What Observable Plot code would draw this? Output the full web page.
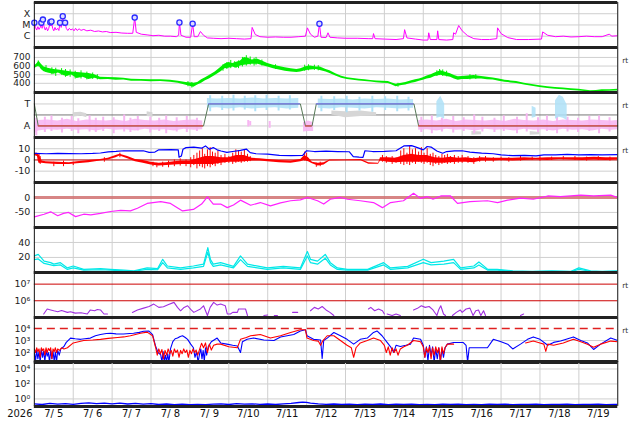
<!DOCTYPE html>
<html><head><meta charset="utf-8">
<script src="https://cdn.jsdelivr.net/npm/d3@7"></script>
<script src="https://cdn.jsdelivr.net/npm/@observablehq/plot@0.6"></script>
<style>
html,body{margin:0;padding:0;background:#fff;overflow:hidden;}
#wrap{position:relative;width:634px;height:424px;font-family:"DejaVu Sans",sans-serif;}
#wrap svg{position:absolute;left:0;overflow:visible;}
</style></head>
<body><div id="wrap"></div>
<script>
// ---------- axis / tick data ----------
const gridDays = [1,2,3,4,5,6,7,8,9,10,11,12,13,14];
const labelDays = [0.5,1.5,2.5,3.5,4.5,5.5,6.5,7.5,8.5,9.5,10.5,11.5,12.5,13.5,14.5];
const dayLabels = ["7/ 5","7/ 6","7/ 7","7/ 8","7/ 9","7/10","7/11","7/12","7/13","7/14","7/15","7/16","7/17","7/18","7/19"];
const yearLabel = ["2026"];

// ---------- panel 1: X-ray flux ----------
const xray = [[0.00,1.6e-5],[0.03,6e-6],[0.06,3.5e-6],[0.09,7e-6],[0.12,4e-6],[0.15,6e-6],[0.18,1.6e-5],[0.20,5e-6],[0.22,3.0e-5],[0.25,7e-6],[0.28,3.5e-6],[0.31,6e-6],[0.34,3e-6],[0.37,5e-6],[0.41,1.7e-5],[0.43,8e-6],[0.44,2.0e-5],[0.47,5e-6],[0.50,3e-6],[0.53,6e-6],[0.56,3.5e-6],[0.60,5e-6],[0.63,3.2e-6],[0.66,1.6e-5],[0.69,6e-6],[0.73,5.9e-5],[0.76,8e-6],[0.79,1.6e-5],[0.82,5e-6],[0.86,3.2e-6],[0.90,5e-6],[0.94,3.5e-6],[0.98,4.5e-6],[1.02,3e-6],[1.06,5e-6],[1.10,3.2e-6],[1.15,4.5e-6],[1.20,3.3e-6],[1.27,4e-6],[1.35,3.0e-6],[1.45,3.4e-6],[1.55,2.6e-6],[1.65,2.9e-6],[1.75,2.4e-6],[1.85,2.6e-6],[1.95,2.1e-6],[2.10,2.2e-6],[2.25,1.9e-6],[2.40,1.8e-6],[2.53,1.8e-6],[2.58,4.5e-5],[2.62,2.2e-6],[2.75,1.5e-6],[2.90,1.3e-6],[3.05,1.1e-6],[3.20,1.2e-6],[3.35,1.0e-6],[3.50,1.0e-6],[3.65,9e-7],[3.71,1.2e-6],[3.73,1.66e-5],[3.77,1.2e-6],[3.90,8e-7],[4.02,8e-7],[4.07,1.3e-5],[4.11,9e-7],[4.20,9e-7],[4.27,2.6e-6],[4.35,1.2e-6],[4.45,7e-7],[4.60,6.5e-7],[4.80,6e-7],[5.00,6.5e-7],[5.20,6e-7],[5.40,5.5e-7],[5.57,6e-7],[5.60,6e-6],[5.68,1.4e-6],[5.80,9e-7],[6.00,8e-7],[6.20,8.5e-7],[6.40,8e-7],[6.60,8e-7],[6.80,9e-7],[6.97,1.0e-6],[7.02,5.5e-6],[7.10,1.5e-6],[7.20,8e-7],[7.29,1e-6],[7.33,1.26e-5],[7.37,8e-7],[7.50,7.5e-7],[7.55,2e-6],[7.60,8e-7],[7.80,7e-7],[8.00,6.5e-7],[8.30,6.5e-7],[8.60,6e-7],[8.70,6e-7],[8.72,1.7e-6],[8.76,6e-7],[9.00,5.5e-7],[9.30,5e-7],[9.49,6e-7],[9.52,3.8e-6],[9.58,7e-7],[9.80,5.5e-7],[10.00,4.5e-7],[10.12,4.5e-7],[10.14,2e-6],[10.18,5e-7],[10.35,5e-7],[10.37,3e-6],[10.40,5e-7],[10.60,4.5e-7],[10.76,5e-7],[10.78,2e-6],[10.83,1.5e-6],[10.91,8.9e-6],[11.00,3e-6],[11.14,1.1e-6],[11.30,6e-7],[11.50,5e-7],[11.70,5e-7],[11.89,6e-7],[11.91,5.5e-6],[12.00,1.7e-6],[12.17,7.5e-7],[12.40,5e-7],[12.70,5e-7],[13.04,5.5e-7],[13.07,2.4e-6],[13.20,1.2e-6],[13.40,9e-7],[13.60,1e-6],[13.80,8.5e-7],[14.00,9e-7],[14.20,1.0e-6],[14.40,9e-7],[14.60,9e-7],[14.78,1.5e-6],[14.85,1.0e-6],[15.00,1.1e-6]];
const flares = [[0.0,1.6e-5],[0.18,1.6e-5],[0.22,3.0e-5],[0.41,1.7e-5],[0.44,2.0e-5],[0.66,1.6e-5],[0.73,5.9e-5],[0.79,1.6e-5],[2.58,4.5e-5],[3.73,1.66e-5],[4.07,1.3e-5],[7.33,1.26e-5]];
const xrayTicks = [1e-4,1e-5,1e-6];
const xrayLabels = ["X","M","C"];

// ---------- panel 2: solar wind speed (time, low, high) ----------
const wind = [[0.00,570,600],[0.06,585,625],[0.12,600,655],[0.18,560,620],[0.25,535,590],[0.35,520,575],[0.5,505,560],[0.62,520,555],[0.75,490,545],[0.85,480,540],[0.95,500,530],[1.1,455,525],[1.25,470,520],[1.4,445,515],[1.55,460,500],[1.7,440,470],[1.9,445,468],[2.1,435,465],[2.3,438,458],[2.5,423,447],[2.75,425,445],[3.0,418,442],[3.25,420,440],[3.5,413,437],[3.7,400,425],[3.9,378,410],[4.1,355,400],[4.2,380,410],[4.3,400,440],[4.4,430,465],[4.5,450,490],[4.65,490,530],[4.8,535,585],[4.9,570,625],[5.0,575,640],[5.1,590,630],[5.2,575,645],[5.3,600,660],[5.4,610,700],[5.5,615,690],[5.6,620,670],[5.75,620,680],[5.9,600,650],[6.0,590,630],[6.15,570,610],[6.3,555,595],[6.45,540,580],[6.6,530,570],[6.75,525,560],[6.85,530,570],[7.0,550,595],[7.1,555,600],[7.25,560,590],[7.35,550,590],[7.5,530,560],[7.6,515,545],[7.75,485,510],[7.9,458,482],[8.05,445,465],[8.2,435,455],[8.35,428,446],[8.5,420,440],[8.65,415,432],[8.8,408,428],[8.95,402,425],[9.1,398,422],[9.2,380,405],[9.3,360,390],[9.45,375,400],[9.55,380,410],[9.7,400,430],[9.8,410,440],[9.9,425,450],[10.0,435,465],[10.1,450,485],[10.2,460,500],[10.3,480,520],[10.45,495,545],[10.55,485,530],[10.7,470,510],[10.8,450,490],[10.9,435,475],[11.0,445,480],[11.15,445,485],[11.3,450,490],[11.5,450,480],[11.65,440,470],[11.8,438,462],[11.95,425,450],[12.1,413,437],[12.25,405,428],[12.4,398,422],[12.6,380,400],[12.8,365,385],[13.0,352,372],[13.2,340,360],[13.4,332,352],[13.6,325,345],[13.8,318,338],[14.0,312,332],[14.15,305,322],[14.3,297,313],[14.45,300,318],[14.6,305,325],[14.8,308,326],[15.0,310,330]];
const windSpikes = [[0.1,590,660],[0.3,525,605],[0.45,500,580],[0.55,480,575],[0.7,495,570],[0.8,470,560],[0.92,470,555],[1.05,450,540],[1.2,450,545],[1.35,440,530],[1.5,445,520],[1.62,440,500],[3.95,360,420],[4.05,345,410],[4.85,540,615],[4.95,560,640],[5.05,570,665],[5.15,580,650],[5.25,570,660],[5.35,590,700],[5.45,600,720],[5.55,610,705],[5.65,600,690],[5.7,610,700],[5.85,600,670],[6.2,560,615],[6.95,540,610],[7.05,545,615],[7.2,550,610],[7.3,545,605],[9.35,355,400],[10.35,480,545],[10.42,490,560],[10.5,480,555],[10.6,475,540],[11.2,440,500],[11.35,445,500]];
const windTicks = [700,600,500,400];

// ---------- panel 3: IMF sector (T = 1, A = -1) ----------
const sectorPts = [[0,1],[0.1,-1],[4.35,-1],[4.48,1],[6.84,1],[6.97,-1],[7.14,-1],[7.25,1],[9.76,1],[9.88,-1],[15,-1]];
const towardSeg = [[4.48,6.84],[7.25,9.76]];
const awaySeg = [[0.1,4.35],[6.97,7.14],[9.88,15]];
const pinkCore = [[0,-1.7,-0.7],[0.1,-1.45,-0.5],[0.35,-1.35,-0.45],[0.6,-1.4,-0.55],[0.85,-1.3,-0.4],[1.1,-1.4,-0.6],[1.35,-1.35,-0.45],[1.6,-1.45,-0.5],[1.85,-1.3,-0.55],[2.1,-1.4,-0.45],[2.35,-1.35,-0.6],[2.6,-1.45,-0.4],[2.85,-1.3,-0.5],[3.1,-1.4,-0.55],[3.35,-1.35,-0.45],[3.6,-1.45,-0.6],[3.85,-1.3,-0.5],[4.1,-1.4,-0.45],[4.33,-1.35,-0.55],[4.36,NaN,NaN],[6.9,NaN,NaN],[6.92,-1.55,-0.7],[7.05,-1.5,-0.55],[7.18,-1.5,-0.7],[7.2,NaN,NaN],[9.86,NaN,NaN],[9.88,-1.4,-0.5],[10.1,-1.35,-0.45],[10.35,-1.45,-0.55],[10.6,-1.3,-0.4],[10.85,-1.4,-0.6],[11.1,-1.35,-0.45],[11.35,-1.45,-0.5],[11.6,-1.3,-0.55],[11.85,-1.4,-0.45],[12.1,-1.35,-0.6],[12.35,-1.45,-0.4],[12.6,-1.3,-0.5],[12.85,-1.4,-0.55],[13.1,-1.35,-0.45],[13.35,-1.45,-0.6],[13.6,-1.3,-0.45],[13.85,-1.4,-0.5],[14.1,-1.35,-0.55],[14.35,-1.45,-0.45],[14.6,-1.3,-0.5],[14.85,-1.4,-0.55],[15,-1.35,-0.5]];
const pinkSpikes = [[0.05,-1.9,-0.3],[0.27,-1.6,-0.2],[0.44,-1.5,-0.1],[0.71,-1.65,-0.3],[0.96,-1.5,-0.15],[1.13,-1.7,-0.35],[1.42,-1.55,-0.1],[1.58,-1.6,-0.3],[1.77,-1.5,-0.2],[2.04,-1.7,-0.25],[2.31,-1.55,0.0],[2.47,-1.6,-0.3],[2.66,-1.45,-0.15],[2.98,-1.65,-0.2],[3.21,-1.5,-0.3],[3.39,-1.7,-0.1],[3.66,-1.55,-0.25],[3.92,-1.6,-0.15],[4.18,-1.5,-0.3],[5.5,-1.1,-0.5],[5.55,-1.0,-0.6],[6.05,-1.2,-0.6],[9.95,-1.6,-0.2],[10.22,-1.7,-0.1],[10.48,-1.55,-0.3],[10.77,-1.65,-0.15],[11.04,-1.5,-0.25],[11.31,-1.7,0.0],[11.52,-1.55,-0.2],[11.83,-1.6,-0.3],[12.07,-1.5,-0.1],[12.41,-1.7,-0.2],[12.66,-1.55,0.1],[12.95,-1.6,-0.25],[13.18,-1.5,-0.1],[13.44,-1.7,0.0],[13.71,-1.55,-0.2],[13.98,-1.6,-0.3],[14.27,-1.5,-0.15],[14.52,-1.7,-0.1],[14.79,-1.55,-0.25]];
const blueCore = [[4.45,0.6,1.5],[4.7,0.65,1.45],[5.0,0.55,1.5],[5.3,0.65,1.45],[5.6,0.55,1.55],[5.9,0.6,1.45],[6.2,0.65,1.5],[6.5,0.55,1.45],[6.8,0.6,1.5],[6.85,NaN,NaN],[7.25,NaN,NaN],[7.3,0.6,1.45],[7.6,0.55,1.4],[7.9,0.65,1.45],[8.2,0.6,1.35],[8.5,0.55,1.45],[8.8,0.65,1.4],[9.1,0.6,1.45],[9.4,0.55,1.35],[9.75,0.6,1.4],[9.8,NaN,NaN],[10.3,NaN,NaN],[10.35,-0.3,1.2],[10.45,-0.2,1.7],[10.55,-0.4,1.0],[10.6,NaN,NaN],[10.85,NaN,NaN],[10.9,-0.2,1.1],[10.95,NaN,NaN],[12.75,NaN,NaN],[12.8,-0.3,0.8],[12.9,-0.2,0.6],[12.95,NaN,NaN],[13.35,NaN,NaN],[13.4,-0.4,1.3],[13.5,-0.2,1.8],[13.6,-0.3,1.6],[13.7,-0.5,0.9],[13.75,NaN,NaN]];
const blueSpikes = [[4.52,0.3,1.75],[4.83,0.4,1.7],[5.12,0.35,1.8],[5.41,0.45,1.7],[5.68,0.3,1.75],[5.97,0.4,1.8],[6.28,0.35,1.7],[6.57,0.45,1.75],[7.38,0.3,1.7],[7.71,0.4,1.65],[8.03,0.2,1.7],[8.36,0.35,1.6],[8.69,0.25,1.7],[9.02,0.4,1.65],[9.33,0.3,1.7],[9.62,0.35,1.6]];
const phiGray = [[0.95,NaN,NaN],[1.0,-0.2,0.2],[1.2,-0.1,0.25],[1.35,-0.25,0.1],[1.4,NaN,NaN],[2.85,NaN,NaN],[2.9,-0.15,0.3],[3.05,-0.2,0.2],[3.1,NaN,NaN],[7.6,NaN,NaN],[7.65,0.0,0.35],[8.0,-0.25,0.3],[8.4,-0.15,0.35],[8.8,-0.1,0.2],[8.85,NaN,NaN],[11.2,NaN,NaN],[11.25,-1.85,-1.5],[11.5,-1.8,-1.55],[11.55,NaN,NaN],[12.7,NaN,NaN],[12.75,-1.85,-1.5],[13.0,-1.8,-1.6],[13.05,NaN,NaN]];
const sectorTicks = [1,-1];
const sectorLabels = ["T","A"];

// ---------- panel 4: IMF Bt (blue) and Bz (red core band + spikes) ----------
const bt = [[0,5.8],[0.3,5.5],[0.6,5.8],[0.9,5.6],[1.2,5.5],[1.5,5.8],[1.7,6.2],[1.9,7.2],[2.1,7.6],[2.3,8.2],[2.6,8.0],[2.8,8.2],[2.95,6.7],[3.1,7.0],[3.2,9.0],[3.5,9.2],[3.7,9.0],[3.72,2.5],[3.78,3.5],[3.82,9.5],[3.9,11],[4.1,11.5],[4.3,10.5],[4.4,12.5],[4.5,9.5],[4.6,11],[4.7,9],[4.8,8],[4.95,6.7],[5.1,7.5],[5.3,8.5],[5.45,9.7],[5.55,6.5],[5.7,5.5],[6.0,5.2],[6.3,4.0],[6.6,3.8],[6.9,4.0],[7.0,8.2],[7.2,7.5],[7.5,7.8],[7.8,7.5],[8.1,7.3],[8.2,3.0],[8.35,2.5],[8.45,2.3],[8.5,8.2],[8.7,7.5],[9.0,7.6],[9.3,8.2],[9.5,12.5],[9.7,12.7],[9.85,11.0],[10.0,9.0],[10.1,12.0],[10.2,11.5],[10.35,8.0],[10.5,6.0],[10.6,7.5],[10.8,8.0],[11.0,8.2],[11.2,7.0],[11.5,6.0],[11.8,5.5],[12.0,4.5],[12.3,3.8],[12.6,4.0],[12.9,3.6],[13.1,4.5],[13.4,4.5],[13.7,5.0],[14.0,4.5],[14.3,4.8],[14.6,4.5],[15.0,4.8]];
const bz = [[0,4,6],[0.08,3,6],[0.1,-1,5],[0.13,-3,4],[0.2,-3,-1],[0.3,-3.5,-1.5],[0.6,-4,-2],[0.9,-4,-2.5],[1.1,-3.5,-1.5],[1.4,-2.5,-0.5],[1.7,-1,0.5],[1.9,0,1.5],[2.1,2,4],[2.2,3.5,5],[2.4,1,3],[2.6,-1.5,0.5],[2.8,-3,-0.5],[3.0,-4.5,-2],[3.2,-5.5,-3],[3.4,-5,-2.5],[3.6,-4.5,-1.5],[3.8,-4,-1],[4.0,-4,-1],[4.2,-4,1],[4.4,-4,3],[4.6,-4,3],[4.8,-3,2],[5.0,-2,2],[5.2,-2,4],[5.4,-1.5,4],[5.6,-1,1.5],[5.8,-1,1],[6.0,-1.5,0.5],[6.3,-2.5,-0.5],[6.6,-3,-1],[6.85,-1.5,0.5],[6.95,-0.5,4],[7.05,-1.5,2],[7.15,-3.5,-2],[7.3,-5.5,-3],[7.45,-4.5,-2.5],[7.6,-1,0],[8.0,-0.8,0],[8.4,-0.8,0.3],[8.6,-3.8,-2.5],[8.85,-3.8,-3],[8.9,-1,2],[9.1,-2,2],[9.3,-2.5,1.5],[9.5,-2,4],[9.7,-2,5],[9.9,-2,4],[10.1,-2,4],[10.3,-3,2],[10.5,-3,1.5],[10.7,-2.5,2.5],[10.9,-2,1.5],[11.1,-2,2],[11.3,-2.5,1],[11.5,-1,2],[11.8,-1,1.5],[12.0,-0.5,1.5],[12.3,-1,1.5],[12.6,-0.5,2],[12.9,0,1.5],[13.2,-0.5,2],[13.5,0.5,2],[13.8,0,2],[14.1,-0.5,2],[14.4,0,2.5],[14.7,-0.5,2],[15,0,2]];
const bzSpikes = [[0.12,-3,5],[0.15,-4,3],[0.5,-6,-2],[0.75,-6,-1],[1.0,-5,-2],[1.8,-2,2],[2.2,2,6],[3.05,-6,-2],[3.15,-7,-3],[3.3,-6.5,-2],[3.45,-7,-1],[3.6,-6,0],[3.75,-5.5,1],[3.9,-6,0],[4.02,-7,2],[4.1,-5,4],[4.18,-8,6],[4.25,-6,8],[4.32,-7,10],[4.38,-8,5],[4.45,-6,9],[4.52,-7,11],[4.58,-5,7],[4.65,-6,6],[4.72,-4,8],[4.8,-5,4],[4.9,-3,5],[5.0,-3,3],[5.1,-4,6],[5.18,-3,9],[5.25,-2,8],[5.32,-3,7],[5.4,-2,9],[5.48,-2,5],[5.55,-1.5,3],[6.95,-1,7],[7.0,-1,6],[7.25,-6.5,-3],[7.35,-6,-2],[8.95,-2,4],[9.05,-3,3],[9.2,-4,3],[9.3,-3,2],[9.42,-4,8],[9.5,-5,10],[9.58,-4,6],[9.65,-5,12],[9.72,-3,9],[9.8,-4,10],[9.88,-2,7],[9.95,-3,11],[10.02,-4,6],[10.1,-3,10],[10.18,-5,5],[10.25,-6,6],[10.32,-4,4],[10.4,-5,3],[10.48,-4,5],[10.55,-3,4],[10.62,-4,5],[10.7,-3,3],[10.8,-4,4],[10.9,-3,3],[11.0,-3,4],[11.15,-3,3],[11.3,-4,2],[11.45,-2,3],[11.6,-2,3],[11.8,-2,2],[12.0,-1,2.5],[12.2,-2,2],[12.5,-1,3],[12.8,-0.5,2.5],[13.0,-1,3],[13.3,-0.5,2.5],[13.6,0,3],[13.9,-0.5,3],[14.2,-1,2.5],[14.5,-0.5,3],[14.8,-1,2.5]];
const imfTicks = [10,0,-10];
const imfLabels = ["10","0","-10"];

// ---------- panel 5: Dst ----------
const dst = [[0,-65],[0.25,-56],[0.42,-48],[0.6,-61],[0.75,-53],[0.88,-50],[1.06,-64],[1.27,-56],[1.45,-58],[1.7,-53],[1.96,-47],[2.22,-43],[2.47,-45],[2.65,-36],[2.9,-20],[3.25,-14],[3.5,-20],[3.81,-45],[4.09,-40],[4.3,-22],[4.45,2],[4.6,-22],[4.79,-22],[4.96,-34],[5.12,-25],[5.3,-9],[5.56,-26],[5.81,-17],[6.07,-28],[6.33,-18],[6.59,-11],[6.84,-8],[7.02,0],[7.28,-11],[7.44,-22],[7.61,-6],[7.87,0],[8.05,-6],[8.38,-11],[8.72,-17],[8.95,-34],[9.16,-17],[9.49,-11],[9.75,14],[9.93,-3],[10.1,3],[10.25,-6],[10.45,5],[10.7,5],[10.88,-20],[11.2,-14],[11.65,-11],[11.91,-17],[12.17,-9],[12.5,-2],[12.83,-6],[13.2,5],[13.53,3],[14.05,8],[14.38,5],[14.82,8],[15,0]];
const dstTicks = [0,-50];
const dstLabels = ["0","-50"];

// ---------- panel 6: two cyan series ----------
const cyanA = [[0,22],[0.1,24],[0.25,15],[0.42,13],[0.5,11],[0.67,13],[0.85,6],[1.0,8.5],[1.27,4],[1.7,5],[1.96,4],[2.3,3],[2.56,2],[2.9,6],[3.17,5],[3.3,17.5],[3.42,8.5],[3.76,6],[4.09,8.5],[4.35,11],[4.46,33],[4.53,17],[4.6,11],[4.79,13],[5.12,8],[5.3,22],[5.48,11],[5.99,6],[6.4,8],[6.84,6],[7.02,28],[7.1,17.5],[7.28,15],[7.48,24],[7.61,13],[7.79,6],[8.05,4],[8.57,4],[8.98,13],[9.16,6],[9.6,8],[10.0,17.5],[10.2,13],[10.53,15],[10.78,17.5],[10.96,6],[11.3,8.5],[11.43,14],[11.66,4],[11.9,4],[12.3,2],[12.8,1.5],[13.3,2],[13.8,1.5],[14.0,6],[14.3,2],[14.6,1.5],[15,2]];
const cyanB = [[0,17],[0.1,18],[0.25,12],[0.42,10],[0.5,9],[0.67,10],[0.85,4],[1.0,6],[1.27,3],[1.7,3.5],[1.96,3],[2.3,2],[2.56,1.5],[2.9,4],[3.17,3.5],[3.3,13],[3.42,6],[3.76,4],[4.09,6],[4.35,8],[4.46,27],[4.53,13],[4.6,8],[4.79,10],[5.12,6],[5.3,17],[5.48,8],[5.99,4],[6.4,6],[6.84,4],[7.02,22],[7.1,13],[7.28,11],[7.48,19],[7.61,10],[7.79,4],[8.05,3],[8.57,3],[8.98,10],[9.16,4],[9.6,6],[10.0,13],[10.2,10],[10.53,11],[10.78,13],[10.96,4],[11.3,6],[11.43,10],[11.66,3],[11.9,3],[12.3,1.5],[12.8,1],[13.3,1.5],[13.8,1],[14.0,4],[14.3,1.5],[14.6,1],[15,1.5]];
const cyanTicks = [40,20];

// ---------- panel 7: electron flux (purple, with gaps) ----------
const elec = [[0.24,1.6e5],[0.33,3.2e5],[0.42,2.8e5],[0.5,2.5e5],[0.6,2.2e5],[0.7,2.6e5],[0.85,2.0e5],[0.93,2.2e5],[1.05,1.8e5],[1.2,1.9e5],[1.36,1.6e5],[1.44,2.8e5],[1.55,2.5e5],[1.62,3.0e5],[1.70,2.8e5],[1.79,1.6e5],[1.88,1.6e5],[1.9,NaN],[2.5,NaN],[2.52,2.0e5],[2.65,2.8e5],[2.81,3.6e5],[2.95,4.5e5],[3.07,6.3e5],[3.2,4.0e5],[3.32,4.4e5],[3.45,6e5],[3.59,8e5],[3.68,4e5],[3.76,2.5e5],[3.85,4e5],[3.94,5e5],[4.02,3e5],[4.1,2.0e5],[4.27,3.2e5],[4.35,5e5],[4.45,1.3e5],[4.52,4e5],[4.61,8e5],[4.7,5.5e5],[4.79,6.3e5],[4.91,5e5],[4.96,1.6e5],[5.04,1.6e5],[5.1,2e5],[5.22,2e5],[5.25,3.2e5],[5.43,3.2e5],[5.48,1.3e5],[5.5,NaN],[5.88,NaN],[5.9,1.3e5],[6.0,1.4e5],[6.05,NaN],[6.15,NaN],[6.17,1.3e5],[6.25,1.3e5],[6.27,NaN],[6.62,NaN],[6.64,2e5],[6.77,2e5],[6.79,NaN],[7.08,NaN],[7.1,2.5e5],[7.2,4e5],[7.3,3.2e5],[7.4,4.5e5],[7.5,2.8e5],[7.6,2e5],[7.7,1.3e5],[7.72,NaN],[8.57,NaN],[8.59,3.2e5],[8.65,4e5],[8.75,2.5e5],[8.85,3.2e5],[8.95,2.5e5],[9.0,1.6e5],[9.02,NaN],[9.05,NaN],[9.07,1.6e5],[9.2,1.3e5],[9.3,1.6e5],[9.41,1.3e5],[9.43,NaN],[9.73,NaN],[9.75,2.8e5],[9.85,3.5e5],[9.95,5e5],[10.05,4e5],[10.15,4.5e5],[10.25,2.8e5],[10.35,1.3e5],[10.4,3e5],[10.45,5e5],[10.52,1.6e5],[10.57,1.3e5],[10.59,NaN],[10.73,NaN],[10.75,1.3e5],[10.85,2e5],[10.95,2.8e5],[11.0,2e5],[11.1,3.2e5],[11.2,3.6e5],[11.28,1.3e5],[11.35,2.5e5],[11.42,2.8e5],[11.48,1.3e5],[11.55,2.5e5],[11.6,1.3e5],[11.62,NaN],[12.48,NaN],[12.5,1.3e5],[12.58,1.6e5],[12.6,NaN]];
const elecTicks = [1e7,1e6];
const elecLabels = ["10⁷","10⁶"];

// ---------- panel 8: two flux series ----------
const p8Blue = [[0.00,100],[0.03,20],[0.06,150],[0.09,30],[0.12,120],[0.15,16],[0.18,200],[0.21,40],[0.24,130],[0.27,18],[0.30,160],[0.33,50],[0.36,100],[0.39,16],[0.42,150],[0.45,30],[0.48,120],[0.51,20],[0.54,110],[0.57,16],[0.60,150],[0.64,60],[0.68,200],[0.72,250],[0.76,316],[0.82,700],[0.93,1600],[1.05,1400],[1.19,1260],[1.3,1400],[1.44,1600],[1.57,2500],[1.70,3160],[1.85,3800],[1.96,4000],[2.1,3600],[2.29,3550],[2.45,3800],[2.55,4000],[2.7,4800],[2.81,6000],[2.94,6300],[3.04,3160],[3.12,316],[3.18,100],[3.25,63],[3.28,16],[3.31,120],[3.34,20],[3.37,60],[3.40,16],[3.43,80],[3.46,16],[3.50,200],[3.56,800],[3.62,1400],[3.68,1600],[3.75,2200],[3.81,2500],[3.88,1800],[3.94,1260],[4.02,500],[4.09,250],[4.13,40],[4.17,120],[4.21,16],[4.25,80],[4.28,200],[4.31,30],[4.34,150],[4.37,20],[4.40,250],[4.43,60],[4.47,300],[4.55,800],[4.70,1600],[4.79,630],[4.95,500],[5.10,400],[5.22,350],[5.30,100],[5.35,800],[5.47,1260],[5.64,1600],[5.90,1100],[6.16,1000],[6.33,2000],[6.50,2500],[6.67,3200],[6.84,6300],[6.97,8000],[7.01,2500],[7.18,1260],[7.36,1100],[7.40,32],[7.44,1000],[7.53,1600],[7.70,4700],[7.87,2500],[8.04,1260],[8.21,500],[8.38,1260],[8.56,1600],[8.72,4700],[8.81,6300],[8.94,2500],[9.07,700],[9.16,300],[9.24,100],[9.30,400],[9.41,316],[9.55,400],[9.67,500],[9.75,1600],[9.93,1260],[10.00,400],[10.04,40],[10.08,300],[10.12,20],[10.16,400],[10.20,60],[10.24,300],[10.28,16],[10.32,200],[10.36,30],[10.40,250],[10.44,16],[10.48,200],[10.52,40],[10.56,250],[10.62,500],[10.78,680],[11.03,680],[11.10,400],[11.14,16],[11.18,250],[11.40,250],[11.65,250],[11.80,1260],[12.00,800],[12.17,500],[12.30,200],[12.50,500],[12.68,1260],[12.83,2000],[13.00,1260],[13.20,400],[13.35,700],[13.53,900],[13.86,2000],[14.05,1000],[14.22,630],[14.38,180],[14.56,500],[14.82,1600],[15.00,1000]];
const p8Red = [[0.00,200],[0.03,100],[0.06,250],[0.09,120],[0.12,200],[0.15,40],[0.18,250],[0.21,150],[0.24,200],[0.27,60],[0.30,250],[0.33,100],[0.36,220],[0.39,150],[0.42,250],[0.45,30],[0.48,200],[0.51,120],[0.54,250],[0.57,100],[0.60,200],[0.65,150],[0.70,250],[0.76,200],[0.85,250],[1.00,630],[1.27,1000],[1.50,1100],[1.70,1260],[1.90,1500],[2.14,1800],[2.30,2000],[2.47,2500],[2.60,3200],[2.73,4000],[2.90,5000],[3.04,2500],[3.12,250],[3.16,60],[3.20,200],[3.24,80],[3.28,180],[3.32,30],[3.36,150],[3.40,60],[3.44,200],[3.48,80],[3.52,150],[3.56,50],[3.60,200],[3.64,100],[3.68,160],[3.72,40],[3.76,150],[3.80,80],[3.84,200],[3.88,100],[3.92,160],[3.96,40],[4.00,150],[4.04,80],[4.08,200],[4.12,100],[4.16,160],[4.20,60],[4.24,150],[4.30,600],[4.35,250],[4.40,630],[4.45,100],[4.50,500],[4.55,160],[4.61,400],[4.70,500],[4.79,500],[5.00,300],[5.22,250],[5.30,1260],[5.45,1800],[5.56,2500],[5.81,3160],[6.07,1600],[6.33,2500],[6.59,4700],[6.84,8000],[6.97,8000],[7.01,1600],[7.18,1000],[7.30,900],[7.36,400],[7.42,1000],[7.53,2500],[7.70,2500],[7.87,1000],[8.04,400],[8.15,250],[8.21,40],[8.27,250],[8.38,630],[8.56,1000],[8.72,1600],[8.90,1000],[9.00,400],[9.05,100],[9.10,300],[9.15,60],[9.20,250],[9.25,100],[9.30,200],[9.35,60],[9.41,200],[9.50,300],[9.59,400],[9.75,1000],[9.93,800],[10.00,300],[10.04,40],[10.08,250],[10.12,100],[10.16,300],[10.20,30],[10.24,250],[10.28,60],[10.32,300],[10.36,100],[10.40,250],[10.44,20],[10.48,300],[10.52,80],[10.56,250],[10.62,500],[10.78,500],[10.80,NaN],[12.60,NaN],[12.63,630],[12.83,900],[13.00,630],[13.10,500],[13.15,126],[13.20,500],[13.35,400],[13.60,630],[13.86,1260],[14.05,800],[14.22,500],[14.38,280],[14.56,500],[14.82,900],[15.00,800]];
const p8Ticks = [1e4,1e3,1e2];
const p8Labels = ["10⁴","10³","10²"];
const p8Alert = [1e4];

// ---------- panel 9: low flux ----------
const p9Blue = [[0,0.22],[0.2,0.18],[0.4,0.25],[0.6,0.2],[0.8,0.24],[1.0,0.19],[1.2,0.26],[1.4,0.3],[1.6,0.24],[1.8,0.28],[2.0,0.22],[2.2,0.27],[2.4,0.21],[2.6,0.25],[2.8,0.2],[3.0,0.23],[3.2,0.18],[3.4,0.21],[3.6,0.17],[3.8,0.2],[4.0,0.17],[4.2,0.19],[4.4,0.17],[4.6,0.2],[4.8,0.22],[5.0,0.18],[5.2,0.24],[5.4,0.2],[5.6,0.22],[5.8,0.19],[6.0,0.21],[6.2,0.18],[6.4,0.22],[6.6,0.25],[6.8,0.33],[6.9,0.38],[7.0,0.35],[7.1,0.28],[7.3,0.22],[7.5,0.19],[7.7,0.21],[7.9,0.18],[8.1,0.2],[8.3,0.17],[8.5,0.2],[8.7,0.18],[8.9,0.21],[9.1,0.17],[9.3,0.2],[9.5,0.18],[9.7,0.2],[9.9,0.17],[10.1,0.19],[10.3,0.17],[10.5,0.2],[10.7,0.18],[10.9,0.2],[11.1,0.17],[11.3,0.19],[11.5,0.17],[11.7,0.2],[11.9,0.18],[12.1,0.2],[12.3,0.17],[12.5,0.19],[12.7,0.18],[12.9,0.2],[13.1,0.17],[13.3,0.19],[13.5,0.18],[13.7,0.2],[13.9,0.17],[14.1,0.19],[14.3,0.18],[14.5,0.2],[14.7,0.17],[14.9,0.19],[15,0.18]];
const p9Ticks = [1e4,1e2,1];
const p9Labels = ["10⁴","10²","10⁰"];

// ---------- layout ----------
const W = 634, ML = 33.8, MR = 16.7, PH = 44.9;
const tops = [2.2, 47.1, 92.0, 136.9, 181.8, 226.7, 271.6, 316.5, 361.4];
const wrap = document.getElementById("wrap");
const X = d => d[0], Y = d => d[1], Y1 = d => d[1], Y2 = d => d[2];

function panel(i, o) {
  const mb = o.mb || 0;
  const labelMap = new Map(o.ticks.map((t, k) => [t, o.labels ? o.labels[k] : String(t)]));
  const marks = [
    Plot.ruleX(gridDays, {stroke: "#cfcfcf", strokeWidth: 1}),
    Plot.ruleY(o.grid || [], {stroke: "#cfcfcf", strokeWidth: 1}),
    ...o.marks,
    Plot.ruleX([0, 15], {stroke: "#111", strokeWidth: 1}),
    Plot.ruleY(o.domain, {stroke: "#222", strokeWidth: 3}),
    Plot.axisY(o.ticks, {tickSize: 0, tickPadding: 4, tickFormat: d => labelMap.get(d), fontSize: o.fs || 9.5, fill: "#222"})
  ];
  if (o.rt) marks.push(Plot.text(["rt"], {frameAnchor: "top-right", dx: 4.5, dy: 10, textAnchor: "start", fontSize: 7.5, fill: "#333"}));
  if (o.extra) marks.push(...o.extra);
  const svg = Plot.plot({
    width: W, height: PH + mb,
    marginLeft: ML, marginRight: MR, marginTop: 0, marginBottom: mb,
    x: {domain: [0, 15], axis: null},
    y: {type: o.type || "linear", domain: o.domain},
    style: {background: "transparent", overflow: "visible", fontFamily: "DejaVu Sans", fontSize: "10px", color: "#222"},
    marks
  });
  svg.style.top = tops[i] + "px";
  wrap.appendChild(svg);
}

// 1 X-ray
panel(0, {type: "log", domain: [1e-7, 1e-3], ticks: xrayTicks, labels: xrayLabels, grid: xrayTicks, marks: [
  Plot.line(xray, {x: X, y: Y, stroke: "#ff00ff", strokeWidth: 1, clip: true}),
  Plot.dot(flares, {x: X, y: Y, r: 2.6, stroke: "#2a2aff", fill: "#dcdcff", strokeWidth: 1.3})
]});
// 2 wind speed
panel(1, {domain: [295, 815], ticks: windTicks, grid: windTicks, rt: true, fs: 9, marks: [
  Plot.areaY(wind, {x: X, y1: Y1, y2: Y2, fill: "#00ee00", clip: true}),
  Plot.ruleX(windSpikes, {x: X, y1: Y1, y2: Y2, stroke: "#00ee00", strokeWidth: 1, clip: true})
]});
// 3 sector
panel(2, {domain: [-2.04, 2.04], ticks: sectorTicks, labels: sectorLabels, grid: sectorTicks, rt: true, marks: [
  Plot.ruleY([0], {stroke: "#777", strokeWidth: 1}),
  Plot.areaY(phiGray, {x: X, y1: Y1, y2: Y2, fill: "#d6d6d6", clip: true}),
  Plot.areaY(pinkCore, {x: X, y1: Y1, y2: Y2, fill: "#f7b6f2", fillOpacity: 0.9, clip: true}),
  Plot.ruleX(pinkSpikes, {x: X, y1: Y1, y2: Y2, stroke: "#f7b6f2", strokeWidth: 2, clip: true}),
  Plot.areaY(blueCore, {x: X, y1: Y1, y2: Y2, fill: "#aee0f7", fillOpacity: 0.85, clip: true}),
  Plot.ruleX(blueSpikes, {x: X, y1: Y1, y2: Y2, stroke: "#aee0f7", strokeWidth: 2, clip: true}),
  Plot.line(sectorPts, {x: X, y: Y, stroke: "#557755", strokeWidth: 1}),
  Plot.ruleY(towardSeg, {x1: d => d[0], x2: d => d[1], y: d => 1, stroke: "#7a7af0", strokeWidth: 1.2}),
  Plot.ruleY(awaySeg, {x1: d => d[0], x2: d => d[1], y: d => -1, stroke: "#e04848", strokeWidth: 1.2})
]});
// 4 IMF
panel(3, {domain: [-20, 20], ticks: imfTicks, labels: imfLabels, grid: [10, -10], rt: true, marks: [
  Plot.ruleY([0], {stroke: "#b00000", strokeWidth: 1}),
  Plot.areaY(bz, {x: X, y1: Y1, y2: Y2, fill: "#ff0000", clip: true}),
  Plot.ruleX(bzSpikes, {x: X, y1: Y1, y2: Y2, stroke: "#ff0000", strokeWidth: 1, clip: true}),
  Plot.line(bt, {x: X, y: Y, stroke: "#0000ff", strokeWidth: 1.2, clip: true})
]});
// 5 Dst
panel(4, {domain: [-100, 50], ticks: dstTicks, labels: dstLabels, grid: [-50], marks: [
  Plot.ruleY([0], {stroke: "#d07070", strokeWidth: 3, strokeOpacity: 0.85}),
  Plot.line(dst, {x: X, y: Y, stroke: "#ff22ff", strokeWidth: 1.2, clip: true})
]});
// 6 cyan
panel(5, {domain: [0, 60], ticks: cyanTicks, grid: cyanTicks, marks: [
  Plot.line(cyanB, {x: X, y: Y, stroke: "#00e8e8", strokeWidth: 1.2, clip: true}),
  Plot.line(cyanA, {x: X, y: Y, stroke: "#00e8e8", strokeWidth: 1.2, clip: true})
]});
// 7 electrons
panel(6, {type: "log", domain: [1e5, 5e7], ticks: elecTicks, labels: elecLabels, rt: true, marks: [
  Plot.ruleY(elecTicks, {stroke: "#cc0000", strokeWidth: 1}),
  Plot.line(elec, {x: X, y: Y, stroke: "#a030e0", strokeWidth: 1.1, clip: true})
]});
// 8 flux pair
panel(7, {type: "log", domain: [15.1, 83000], ticks: p8Ticks, labels: p8Labels, grid: [1e3, 1e2], rt: true, marks: [
  Plot.ruleY(p8Alert, {stroke: "#e02020", strokeWidth: 1.5, strokeDasharray: "8,5"}),
  Plot.line(p8Blue, {x: X, y: Y, stroke: "#0000ff", strokeWidth: 1.1, clip: true}),
  Plot.line(p8Red, {x: X, y: Y, stroke: "#ff0000", strokeWidth: 1.1, clip: true})
]});
// 9 low flux + time axis
panel(8, {type: "log", domain: [0.1, 1e5], ticks: p9Ticks, labels: p9Labels, grid: p9Ticks, mb: 18, marks: [
  Plot.line(p9Blue, {x: X, y: Y, stroke: "#0000ff", strokeWidth: 1.3, clip: true})
], extra: [
  Plot.text(labelDays, {x: d => d, text: dayLabels, frameAnchor: "bottom", dy: 10.7, fontSize: 10, fill: "#111"}),
  Plot.text(yearLabel, {frameAnchor: "bottom-left", dx: -14.5, dy: 10.7, textAnchor: "middle", fontSize: 10, fill: "#111"})
]});
</script>
</body></html>
